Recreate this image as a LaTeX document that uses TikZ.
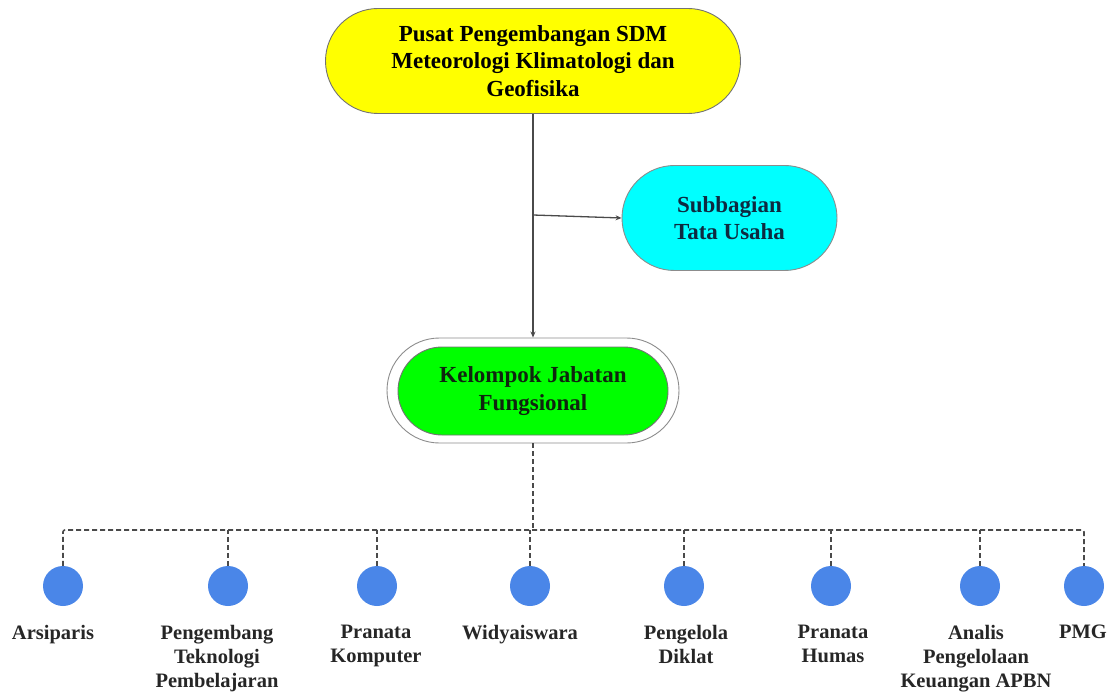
\documentclass[tikz,border=0pt]{standalone}
\usepackage{fontspec}
\setmainfont{Liberation Serif}
\usetikzlibrary{shapes.misc,arrows.meta}

\definecolor{headyellow}{HTML}{FFFF00}
\definecolor{subcyan}{HTML}{00FFFF}
\definecolor{jfgreen}{HTML}{00FF00}
\definecolor{jfblue}{HTML}{4A86E8}
\definecolor{linegray}{HTML}{4A4A4A}
\definecolor{subtext}{HTML}{0E2A40}
\definecolor{jftext}{HTML}{0F250F}

\tikzset{
  unitbox/.style={rounded rectangle, draw=#1, line width=0.9pt, align=center,
    inner sep=0pt, font=\fontsize{23}{27.5}\selectfont\bfseries},
  jfcircle/.style={circle, fill=jfblue, minimum size=40pt, inner sep=0pt},
  jflabel/.style={anchor=north, align=center, inner sep=0pt, text=black!85,
    font=\fontsize{20.5}{24}\selectfont\bfseries},
  conn/.style={draw=linegray, line width=1.3pt, -{Stealth[length=6pt,width=5pt]}},
  dashline/.style={draw=linegray, line width=1.6pt, dash pattern=on 5pt off 3pt,
    rounded corners=2pt},
}

\begin{document}
\begin{tikzpicture}[x=1pt, y=-1pt]
  \useasboundingbox (0,0) rectangle (1110,692);

  % Units
  \node[unitbox=black!55, fill=headyellow, minimum width=415pt, minimum height=105pt]
    (pusat) at (533,61) {Pusat Pengembangan SDM\\Meteorologi Klimatologi dan\\Geofisika};
  \node[unitbox=black!45, fill=subcyan, text=subtext, minimum width=215pt, minimum height=105pt]
    (subbag) at (729.5,218) {Subbagian\\Tata Usaha};
  \node[unitbox=black!45, fill=white, minimum width=292pt, minimum height=105pt]
    (kjfouter) at (533,390.5) {};
  \node[unitbox=black!55, fill=jfgreen, text=jftext, minimum width=270pt, minimum height=88pt]
    (kjf) at (533,391) {Kelompok Jabatan\\Fungsional};

  \coordinate (branch) at (533,215);
  \coordinate (bus) at (533,530);

  \draw[conn] (pusat.south) -- (kjfouter.north);
  \draw[conn] (branch) -- (subbag.west);

  % Jabatan fungsional
  \foreach \n/\x/\lx/\txt in {1/63/53/Arsiparis,
      2/228/217/{Pengembang\\Teknologi\\Pembelajaran},
      3/377/376/{Pranata\\Komputer},
      4/530/520/Widyaiswara,
      5/684/686/{Pengelola\\Diklat},
      6/831/833/{Pranata\\Humas},
      7/980/976/{Analis\\Pengelolaan\\Keuangan APBN},
      8/1084/1083/PMG} {
    \node[jfcircle] (c\n) at (\x,586) {};
    \node[jflabel] (l\n) at (\lx,625) {\txt};
  }

  \draw[dashline] (kjfouter.south) -- (bus);
  \draw[dashline] (c1.north) |- (bus) -| (c8.north);
  \foreach \n in {2,...,7}
    \draw[dashline] (c\n.north) -- (c\n.north |- bus);
\end{tikzpicture}
\end{document}
